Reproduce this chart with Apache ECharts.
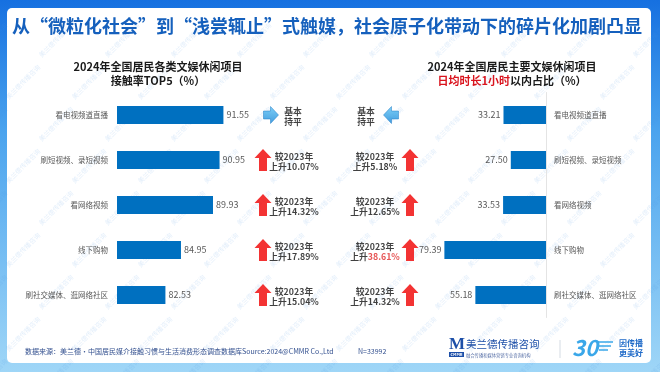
<!DOCTYPE html>
<html><head><meta charset="utf-8">
<script src="https://cdn.jsdelivr.net/npm/echarts@6/dist/echarts.min.js"></script>
<style>html,body{margin:0;padding:0;background:#fff}#c{width:660px;height:372px}</style>
</head><body><div id="c"></div>
<script>
// ---- data ----
const pageTitle = '从“微粒化社会”到“浅尝辄止”式触媒，社会原子化带动下的碎片化加剧凸显';
const leftSubtitle = ['2024年全国居民各类文娱休闲项目', '接触率TOP5（%）'];
const rightSubtitle = ['2024年全国居民主要文娱休闲项目', '日均时长1小时', '以内占比（%）'];
const categories = ['看电视频道直播', '刷短视频、录短视频', '看网络视频', '线下购物', '刷社交媒体、逛网络社区'];
const leftValues = [91.55, 90.95, 89.93, 84.95, 82.53];
const leftChange = [null, 10.07, 14.32, 17.89, 15.04];   // null = 基本持平
const rightValues = [33.21, 27.50, 33.53, 79.39, 55.18];
const rightChange = [null, 5.18, 12.65, 38.61, 14.32];
const highlightChange = 38.61;
const sourceText = '数据来源：美兰德•中国居民媒介接触习惯与生活消费形态调查数据库Source:2024@CMMR Co.,Ltd';
const sampleText = 'N=33992';

// ---- styles ----
const FONT = '"Noto Sans CJK SC", "Noto Sans", sans-serif';
const BAR = '#0070C0';
const RED = '#f00000';
const UP = 'path://M8.5,0 L17,9 L12.5,9 L12.5,22 L4.5,22 L4.5,9 L0,9 Z';
const RIGHTA = 'path://M0,4.5 L7,4.5 L7,0 L15,8.5 L7,17 L7,12.5 L0,12.5 Z';
const LEFTA = 'path://M15,4.5 L8,4.5 L8,0 L0,8.5 L8,17 L8,12.5 L15,12.5 Z';
const blueGrad = {type:'linear',x:0,y:0,x2:0,y2:1,colorStops:[{offset:0,color:'#5cc3f6'},{offset:1,color:'#1585d6'}]};

const gTop = 92.5, gH = 225;
const chart = echarts.init(document.getElementById('c'));

function annotArrows(changes, arrowX, flatX, flatSym) {
  return changes.map((c, i) => c == null
    ? {value:[flatX, i], symbol: flatSym, symbolSize:[15,17], itemStyle:{color: blueGrad, borderColor:'#1a78c4', borderWidth:0.6}}
    : {value:[arrowX, i], symbol: UP, symbolSize:[17,22], itemStyle:{color: RED}});
}
function annotTexts(changes, textX, flatX) {
  return changes.map((c, i) => ({value:[c == null ? flatX : textX, i], change: c}));
}
const rich = {
  b:{fontSize:8.8, fontWeight:'bold', color:'#111', fontFamily:FONT, lineHeight:10.5},
  r:{fontSize:8.8, fontWeight:'bold', color:'#e02a2a', fontFamily:FONT, lineHeight:10.5}
};
function annotFormatter(p) {
  const c = p.data.change;
  if (c == null) return '{b|基本}\n{b|持平}';
  const s = c.toFixed(2) + '%';
  return '{b|较2023年}\n{b|上升}' + (c === highlightChange ? '{r|' + s + '}' : '{b|' + s + '}');
}

// panel, watermark, decorations
const graphics = [
  {type:'rect', z:-20, shape:{x:7, y:8, width:644, height:355, r:5}, style:{fill:'#ffffff'}}
];
for (let r = 0; r < 9; r++) {
  for (let k = 0; k < 11; k++) {
    graphics.push({type:'text', z:-19, x: k*66 - 10 + (r%2)*33, y: 40 + r*42, rotation: Math.PI/4,
      style:{text:'美兰德传播咨询', fontSize:6.5, fontFamily:FONT, fill:'rgba(80,150,225,0.17)', align:'center', verticalAlign:'middle'}});
  }
}
graphics.push(
  {type:'text', x:12, y:26, style:{text:pageTitle, fontSize:18, fontWeight:'bold', fontFamily:FONT, fill:'#1560bd', verticalAlign:'middle'}},
  {type:'text', x:158, y:67, style:{text:leftSubtitle[0], fontSize:11, fontWeight:'bold', fontFamily:FONT, fill:'#1a1a1a', align:'center', verticalAlign:'middle'}},
  {type:'text', x:158, y:81, style:{text:leftSubtitle[1], fontSize:11, fontWeight:'bold', fontFamily:FONT, fill:'#1a1a1a', align:'center', verticalAlign:'middle'}},
  {type:'text', x:512, y:67, style:{text:rightSubtitle[0], fontSize:11, fontWeight:'bold', fontFamily:FONT, fill:'#1a1a1a', align:'center', verticalAlign:'middle'}},
  {type:'text', x:512, y:81, style:{text:'{r|' + rightSubtitle[1] + '}{k|' + rightSubtitle[2] + '}', align:'center', verticalAlign:'middle',
    rich:{r:{fontSize:11, fontWeight:'bold', fontFamily:FONT, fill:'#d9141e', color:'#d9141e'}, k:{fontSize:11, fontWeight:'bold', fontFamily:FONT, fill:'#1a1a1a', color:'#1a1a1a'}}}},
  {type:'text', x:25, y:351, style:{text:sourceText, fontSize:7, fontFamily:FONT, fill:'#33508f', verticalAlign:'middle'}},
  {type:'text', x:358, y:351, style:{text:sampleText, fontSize:7, fontFamily:FONT, fill:'#33508f', verticalAlign:'middle'}},
  // logo M
  {type:'text', x:449, y:345, style:{text:'M', fontSize:17, fontWeight:'bold', fontFamily:'"Liberation Serif", serif', fill:'#1d4fa8', verticalAlign:'middle'}},
  {type:'rect', shape:{x:449, y:352, width:15, height:5}, style:{fill:'#1d4fa8'}},
  {type:'text', x:456.5, y:354.7, style:{text:'CMMR', fontSize:4, fontWeight:'bold', fontFamily:FONT, fill:'#fff', align:'center', verticalAlign:'middle'}},
  {type:'text', x:466, y:344, style:{text:'美兰德传播咨询', fontSize:10.5, fontFamily:FONT, fill:'#1d4fa8', verticalAlign:'middle'}},
  {type:'text', x:466, y:355, style:{text:'融合传播和媒体营销专业咨询机构', fontSize:4.3, fontFamily:FONT, fill:'#5a72a8', verticalAlign:'middle'}},
  {type:'line', shape:{x1:560, y1:340, x2:560, y2:358}, style:{stroke:'#d4dbe3', lineWidth:1}},
  {type:'text', x:572, y:348, style:{text:'30', fontSize:22, fontWeight:'bold', fontStyle:'italic', fontFamily:FONT, fill:'#3aa7e9', verticalAlign:'middle'}},
  {type:'line', shape:{x1:597, y1:342, x2:613, y2:342}, style:{stroke:'#3aa7e9', lineWidth:1.5}},
  {type:'line', shape:{x1:598, y1:346, x2:611, y2:346}, style:{stroke:'#3aa7e9', lineWidth:1.5}},
  {type:'line', shape:{x1:599, y1:350, x2:608, y2:350}, style:{stroke:'#3aa7e9', lineWidth:1.5}},
  {type:'text', x:619, y:343, style:{text:'因传播', fontSize:8, fontWeight:'bold', fontFamily:FONT, fill:'#1f6ac8', verticalAlign:'middle'}},
  {type:'text', x:619, y:353, style:{text:'更美好', fontSize:8, fontWeight:'bold', fontFamily:FONT, fill:'#1f6ac8', verticalAlign:'middle'}}
);

const hiddenCat = (gi) => ({type:'category', gridIndex:gi, data:categories, inverse:true, show:false});

chart.setOption({
  animation:false,
  backgroundColor:{type:'linear',x:0,y:0,x2:0,y2:1,colorStops:[{offset:0,color:'#1670e0'},{offset:0.35,color:'#4aa3ee'},{offset:1,color:'#9fd6f7'}]},
  textStyle:{fontFamily:FONT},
  graphic:graphics,
  grid:[
    {left:117, top:gTop, width:128.6, height:gH},
    {left:418, top:gTop, width:128, height:gH},
    {left:240, top:gTop, width:90, height:gH},
    {left:330, top:gTop, width:90, height:gH}
  ],
  xAxis:[
    {type:'value', gridIndex:0, min:75, max:95, show:false},
    {type:'value', gridIndex:1, min:0, max:100, inverse:true, show:false},
    {type:'value', gridIndex:2, min:0, max:90, show:false},
    {type:'value', gridIndex:3, min:0, max:90, show:false}
  ],
  yAxis:[
    {type:'category', gridIndex:0, data:categories, inverse:true, axisLine:{show:false}, axisTick:{show:false},
      axisLabel:{fontSize:7.5, color:'#595959', margin:9, fontFamily:FONT}},
    {type:'category', gridIndex:1, data:categories, inverse:true, position:'right', axisLine:{show:true, lineStyle:{color:'#e4e4e4'}}, axisTick:{show:false},
      axisLabel:{fontSize:7.5, color:'#595959', margin:8, fontFamily:FONT}},
    hiddenCat(2), hiddenCat(3)
  ],
  series:[
    {type:'bar', xAxisIndex:0, yAxisIndex:0, data:leftValues, barWidth:18, itemStyle:{color:BAR},
      label:{show:true, position:'right', distance:3, fontSize:9, color:'#595959', formatter:p => p.value.toFixed(2)}},
    {type:'bar', xAxisIndex:1, yAxisIndex:1, data:rightValues, barWidth:18, itemStyle:{color:BAR},
      label:{show:true, position:'left', distance:3, fontSize:9, color:'#595959', formatter:p => p.value.toFixed(2)}},
    {type:'scatter', xAxisIndex:2, yAxisIndex:2, data:annotArrows(leftChange, 23, 31, RIGHTA), silent:true},
    {type:'scatter', xAxisIndex:2, yAxisIndex:2, data:annotTexts(leftChange, 54, 53), symbolSize:0,
      label:{show:true, position:'inside', offset:[0,1.5], formatter:annotFormatter, rich:rich}},
    {type:'scatter', xAxisIndex:3, yAxisIndex:3, data:annotArrows(rightChange, 80, 61, LEFTA), silent:true},
    {type:'scatter', xAxisIndex:3, yAxisIndex:3, data:annotTexts(rightChange, 45, 36), symbolSize:0,
      label:{show:true, position:'inside', offset:[0,1.5], formatter:annotFormatter, rich:rich}}
  ]
});
</script></body></html>
